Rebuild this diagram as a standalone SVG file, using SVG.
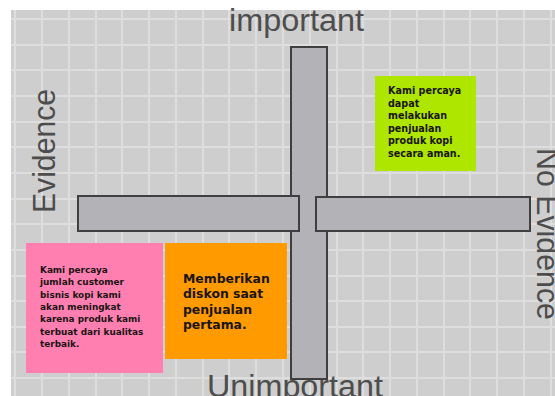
<svg xmlns="http://www.w3.org/2000/svg" width="555" height="396" viewBox="0 0 555 396">
<style>
.axis{fill:#b3b3b7;stroke:#3f3f3f;stroke-width:2}
.lbl{font-family:"Liberation Sans",Arial,sans-serif;fill:#4d4d4d;font-size:31px}
.note{font-family:"DejaVu Sans",sans-serif;font-weight:bold;fill:#1a1414}
.grid line{stroke:#dedede;stroke-width:2}
</style>
<rect width="555" height="396" fill="#ffffff"/>
<rect x="11" y="10" width="544" height="386" fill="#cecece"/>
<g class="grid" id="grid">
<line x1="15" y1="10" x2="15" y2="396"/><line x1="42" y1="10" x2="42" y2="396"/><line x1="69" y1="10" x2="69" y2="396"/><line x1="96" y1="10" x2="96" y2="396"/><line x1="122" y1="10" x2="122" y2="396"/><line x1="149" y1="10" x2="149" y2="396"/><line x1="176" y1="10" x2="176" y2="396"/><line x1="203" y1="10" x2="203" y2="396"/><line x1="229" y1="10" x2="229" y2="396"/><line x1="256" y1="10" x2="256" y2="396"/><line x1="283" y1="10" x2="283" y2="396"/><line x1="310" y1="10" x2="310" y2="396"/><line x1="337" y1="10" x2="337" y2="396"/><line x1="363" y1="10" x2="363" y2="396"/><line x1="390" y1="10" x2="390" y2="396"/><line x1="417" y1="10" x2="417" y2="396"/><line x1="444" y1="10" x2="444" y2="396"/><line x1="470" y1="10" x2="470" y2="396"/><line x1="497" y1="10" x2="497" y2="396"/><line x1="524" y1="10" x2="524" y2="396"/><line x1="551" y1="10" x2="551" y2="396"/>
<line x1="11" y1="19" x2="555" y2="19"/><line x1="11" y1="45" x2="555" y2="45"/><line x1="11" y1="70" x2="555" y2="70"/><line x1="11" y1="96" x2="555" y2="96"/><line x1="11" y1="122" x2="555" y2="122"/><line x1="11" y1="147" x2="555" y2="147"/><line x1="11" y1="173" x2="555" y2="173"/><line x1="11" y1="199" x2="555" y2="199"/><line x1="11" y1="224" x2="555" y2="224"/><line x1="11" y1="250" x2="555" y2="250"/><line x1="11" y1="276" x2="555" y2="276"/><line x1="11" y1="301" x2="555" y2="301"/><line x1="11" y1="327" x2="555" y2="327"/><line x1="11" y1="352" x2="555" y2="352"/><line x1="11" y1="378" x2="555" y2="378"/>
</g>
<g id="connectors">
<rect id="axis-v" class="axis" x="291" y="47" width="36" height="332"/>
<rect id="axis-left" class="axis" x="78" y="196" width="221" height="35"/>
<rect id="axis-right" class="axis" x="316" y="197" width="214" height="34"/>
</g>
<g id="label-important"><text class="lbl" x="296.5" y="30.5" text-anchor="middle" textLength="135" lengthAdjust="spacingAndGlyphs">important</text></g>
<g id="label-unimportant"><text class="lbl" x="295" y="397" text-anchor="middle" textLength="176" lengthAdjust="spacingAndGlyphs">Unimportant</text></g>
<g id="label-evidence"><text class="lbl" transform="translate(55,151) rotate(-90)" text-anchor="middle" textLength="124" lengthAdjust="spacingAndGlyphs">Evidence</text></g>
<g id="label-noevidence"><text class="lbl" transform="translate(537,234) rotate(90)" text-anchor="middle" textLength="172" lengthAdjust="spacingAndGlyphs">No Evidence</text></g>
<g id="note-green">
<rect x="375" y="76" width="101" height="95" fill="#aee600"/>
<text class="note" font-size="9.6">
<tspan x="388" y="94">Kami percaya</tspan>
<tspan x="388" y="106.5">dapat</tspan>
<tspan x="388" y="119">melakukan</tspan>
<tspan x="388" y="131.5">penjualan</tspan>
<tspan x="388" y="144">produk kopi</tspan>
<tspan x="388" y="156.5">secara aman.</tspan>
</text>
</g>
<g id="note-pink">
<rect x="26" y="243" width="137" height="130" fill="#ff80b0"/>
<text class="note" font-size="8.9">
<tspan x="40" y="273">Kami percaya</tspan>
<tspan x="40" y="285.3">jumlah customer</tspan>
<tspan x="40" y="297.6">bisnis kopi kami</tspan>
<tspan x="40" y="309.9">akan meningkat</tspan>
<tspan x="40" y="322.2">karena produk kami</tspan>
<tspan x="40" y="334.5">terbuat dari kualitas</tspan>
<tspan x="40" y="346.8">terbaik.</tspan>
</text>
</g>
<g id="note-orange">
<rect x="165" y="243" width="122" height="116" fill="#ff9a00"/>
<text class="note" font-size="12.4">
<tspan x="183" y="283">Memberikan</tspan>
<tspan x="183" y="298.3">diskon saat</tspan>
<tspan x="183" y="313.6">penjualan</tspan>
<tspan x="183" y="328.9">pertama.</tspan>
</text>
</g>
</svg>
